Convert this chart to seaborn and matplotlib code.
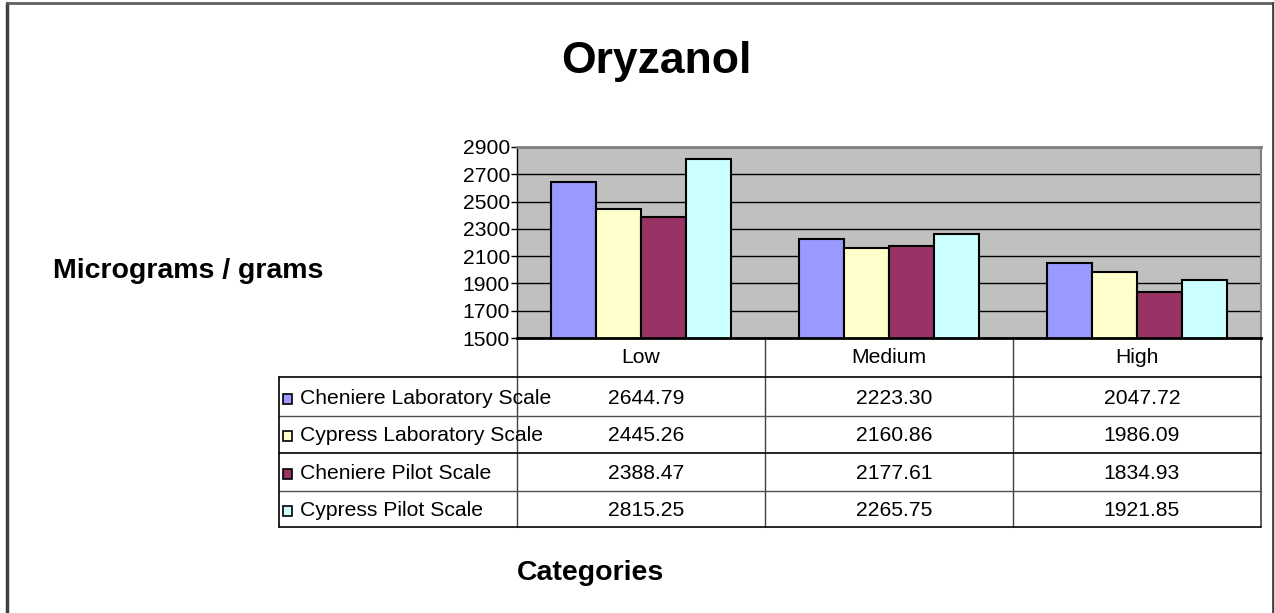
import numpy as np
import pandas as pd
import matplotlib
matplotlib.use("Agg")
import matplotlib.pyplot as plt
import matplotlib.transforms as mtransforms
from matplotlib.patches import Rectangle
from matplotlib.lines import Line2D
import seaborn as sns

levels = ["Low", "Medium", "High"]
series = ["Cheniere Laboratory Scale", "Cypress Laboratory Scale",
          "Cheniere Pilot Scale", "Cypress Pilot Scale"]
cheniere_lab = [2644.79, 2223.30, 2047.72]
cypress_lab = [2445.26, 2160.86, 1986.09]
cheniere_pilot = [2388.47, 2177.61, 1834.93]
cypress_pilot = [2815.25, 2265.75, 1921.85]
yticks = [1500, 1700, 1900, 2100, 2300, 2500, 2700, 2900]
colors = ["#9999FF", "#FFFFCC", "#993366", "#CCFFFF"]

values = [cheniere_lab, cypress_lab, cheniere_pilot, cypress_pilot]
df = pd.DataFrame({
    "Level": levels * len(series),
    "Series": [s for s in series for _ in levels],
    "Value": [v for vals in values for v in vals],
})

sns.set_style("white")
plt.rcParams["font.family"] = ["Liberation Sans", "DejaVu Sans"]
plt.rcParams["text.color"] = "black"
plt.rcParams["ytick.color"] = "black"
plt.rcParams["ytick.labelcolor"] = "black"

W, H = 1274, 613
def fx(x):
    return x / W
def fy(y):
    return 1 - y / H

fig = plt.figure(figsize=(W / 100, H / 100), dpi=100)
ax = fig.add_axes([fx(517), fy(338), fx(1261) - fx(517), fy(147) - fy(338)])
ax.set_facecolor("#C0C0C0")

sns.barplot(data=df, x="Level", y="Value", hue="Series", order=levels,
            hue_order=series, palette=colors, saturation=1, width=0.726,
            edgecolor="black", linewidth=1.5, legend=False, ax=ax)

ax.set_ylim(1500, 2900)
ax.set_yticks(yticks)
ax.set_yticklabels([str(t) for t in yticks], fontsize=15.2)
ax.set_xlim(-0.5, 2.5)
ax.set_xticks([])
ax.set_xlabel("")
ax.set_ylabel("")
ax.yaxis.grid(True, color="black", lw=1)
ax.set_axisbelow(True)
ax.tick_params(axis="y", direction="out", length=4, width=1, pad=1,
               left=True, color="black", labelcolor="black")
ax.spines["left"].set_color("black")
ax.spines["left"].set_linewidth(1)
ax.spines["bottom"].set_color("black")
ax.spines["bottom"].set_linewidth(2)
ax.spines["top"].set_color("#808080")
ax.spines["top"].set_linewidth(2)
ax.spines["right"].set_color("#808080")
ax.spines["right"].set_linewidth(1.5)

# titles
fig.text(fx(656), fy(73), "Oryzanol", fontsize=32, fontweight="bold",
         ha="center", va="baseline")
fig.text(fx(188), fy(278), "Micrograms / grams", fontsize=20.5,
         fontweight="bold", ha="center", va="baseline")
fig.text(fx(590), fy(580), "Categories", fontsize=20.5, fontweight="bold",
         ha="center", va="baseline")

# data table
blend = mtransforms.blended_transform_factory(ax.transData, fig.transFigure)
row_lines = [377, 416, 453, 491, 527]
baselines = [404, 441, 479, 516]
for i, lv in enumerate(levels):
    ax.text(i, fy(363), lv, fontsize=15.2, ha="center", va="baseline",
            transform=blend, clip_on=False)
for b in [-0.5, 0.5, 1.5]:
    ax.add_line(Line2D([b, b], [fy(338), fy(527)], color="#404040", lw=1,
                       transform=blend, clip_on=False))
ax.add_line(Line2D([2.5, 2.5], [fy(338), fy(527)], color="#404040", lw=1.2,
                   transform=blend, clip_on=False))
for k, y in enumerate(row_lines):
    col = "black" if k % 2 == 0 else "#505050"
    fig.add_artist(Line2D([fx(279), fx(1261)], [fy(y), fy(y)], color=col,
                          lw=1.2 if k % 2 == 0 else 1))
fig.add_artist(Line2D([fx(279), fx(279)], [fy(377), fy(527)], color="black", lw=1.2))

for r, (name, vals) in enumerate(zip(series, values)):
    bl = baselines[r]
    fig.add_artist(Rectangle((fx(283), fy(bl)), fx(9), 10 / H,
                             facecolor=colors[r], edgecolor="black", lw=1.2))
    fig.text(fx(300), fy(bl), name, fontsize=15.2, ha="left", va="baseline")
    for i, v in enumerate(vals):
        ax.text(i + 0.02, fy(bl), "%.2f" % v, fontsize=15.2, ha="center",
                va="baseline", transform=blend, clip_on=False)

# outer chart frame
fig.add_artist(Line2D([fx(7), fx(7)], [fy(3), 0], color="#404040", lw=2.5))
fig.add_artist(Line2D([fx(7), fx(1273)], [fy(3), fy(3)], color="#606060", lw=2))
fig.add_artist(Line2D([fx(1272.5), fx(1272.5)], [fy(3), 0], color="#404040", lw=2))

fig.savefig("out.png", dpi=100)
